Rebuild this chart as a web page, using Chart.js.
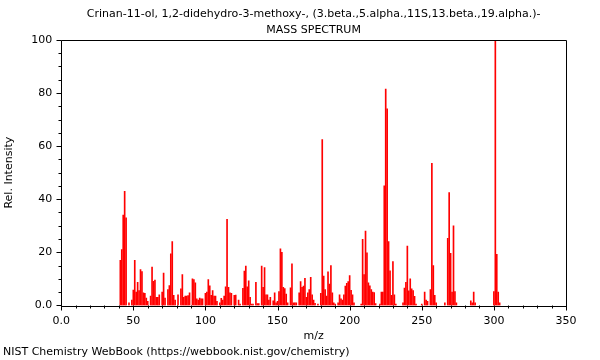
<!DOCTYPE html>
<html>
<head>
<meta charset="utf-8">
<script src="https://cdn.jsdelivr.net/npm/chart.js@4.4.0/dist/chart.umd.min.js"></script>
<style>
  html, body { margin: 0; padding: 0; background: #fff; }
  #wrap { width: 600px; height: 360px; }
</style>
</head>
<body>
<div id="wrap"><canvas id="myChart" width="600" height="360"></canvas></div>
<script>
const titleLines = ['Crinan-11-ol, 1,2-didehydro-3-methoxy-, (3.beta.,5.alpha.,11S,13.beta.,19.alpha.)-', 'MASS SPECTRUM'];
const footerText = 'NIST Chemistry WebBook (https://webbook.nist.gov/chemistry)';

// m/z values and relative intensities
const mzValues = [
  41, 42, 43, 44, 45, 47, 49, 50, 51, 52, 53, 54, 55, 56, 57, 58, 59, 60,
  62, 63, 64, 65, 66, 67, 68, 70, 71, 72, 74, 75, 76, 77, 78, 79,
  81, 83, 84, 85, 86, 87, 88, 89, 91, 92, 93, 94, 95, 96, 97, 98,
  100, 101, 102, 103, 104, 105, 106, 107, 108, 110, 111, 112, 113, 114, 115, 116, 117, 118,
  120, 121, 123, 124, 126, 127, 128, 129, 130, 131, 132, 133, 135, 136, 137, 139,
  140, 141, 142, 143, 144, 145, 147, 148, 149, 150, 151, 152, 153, 154, 155, 156, 157, 159,
  160, 161, 162, 163, 165, 166, 167, 168, 169, 170, 171, 172, 173, 174, 175, 176, 178,
  180, 181, 182, 183, 184, 185, 186, 187, 188, 189, 190, 192, 193, 194, 195, 196, 197, 198, 199,
  200, 201, 202, 203, 208, 209, 210, 211, 212, 213, 214, 215, 216, 217, 218,
  221, 222, 223, 224, 225, 226, 227, 228, 229, 230, 231, 232, 237, 238, 239,
  240, 241, 242, 243, 244, 245, 246, 250, 252, 253, 254, 256, 257, 258, 259,
  260, 266, 268, 269, 270, 271, 272, 273, 274, 284, 285, 286, 287,
  300, 301, 302, 303, 304
];
const intensities = [
  17, 21, 34, 43, 33, 1, 2, 5.8, 17, 5, 8.7, 5.6, 13.5, 12.7, 4.7, 4.5, 2.8, 1.5,
  3.5, 14.4, 9.1, 9.5, 3, 3, 4, 5, 12.2, 2.8, 6, 7.5, 19.4, 24, 3.8, 2,
  4, 6.2, 11.6, 3, 3.5, 3.5, 3.7, 4.7, 10, 9.7, 8.5, 2.5, 2, 2.8, 2.5, 2.5,
  4.5, 5, 9.7, 7.4, 3.8, 5.6, 3.5, 3.5, 1.5, 1, 2.7, 2, 3.5, 7, 32.4, 6.8, 4.7, 4.5,
  3.8, 3.9, 2, 0.5, 6.4, 12.9, 14.8, 7, 9.3, 3, 0.5, 0.5, 8.7, 0.7, 0.7, 14.8,
  6.8, 14.2, 4, 4, 2, 3, 1.7, 4.7, 1, 1.5, 5.2, 21.3, 20, 6.8, 6.3, 4.3, 1, 6.6,
  15.7, 1, 1, 1, 4.7, 9, 6.8, 7.3, 10.2, 3, 4.7, 6, 10.6, 4, 2, 0.8, 0.5,
  4.5, 62.5, 11, 6, 3.5, 12.6, 8, 15, 4.7, 1, 0.5, 1, 4, 2.5, 2, 4, 7.3, 8.3, 9,
  11.2, 5.7, 4, 1, 0.5, 24.9, 11.6, 28, 19.8, 8.5, 7.4, 6, 5, 4.8, 0.7,
  0.5, 5, 5, 45, 81.5, 74, 24, 13, 3.8, 16.5, 4, 0.5, 1, 6.5, 8.7,
  22.3, 5.5, 10, 6.2, 5.6, 3.4, 0.5, 0.5, 5, 2, 1.5, 6, 53.5, 15, 3.8,
  1, 1, 25.3, 42.5, 19.6, 5, 30, 5.2, 1, 1.7, 1, 5, 1,
  5.2, 100, 19.2, 5, 1
];

const xTicks = [0, 50, 100, 150, 200, 250, 300, 350];
const yTicks = [0, 20, 40, 60, 80, 100];

Chart.defaults.font.family = 'DejaVu Sans';
Chart.defaults.font.size = 11;
Chart.defaults.color = '#000';

// frame plus major / minor tick marks, drawn from the scales
const frameTicks = {
  id: 'frameTicks',
  afterDraw(chart) {
    const ctx = chart.ctx;
    const a = chart.chartArea;
    const xs = chart.scales.x, ys = chart.scales.y;
    ctx.save();
    ctx.strokeStyle = '#000';
    ctx.lineWidth = 1;
    ctx.beginPath();
    ctx.rect(Math.round(a.left) + 0.5, Math.round(a.top) + 0.5,
      Math.round(a.right - a.left), Math.round(a.bottom - a.top));
    for (let v = xs.min; v <= xs.max; v += 10) {
      const px = Math.round(xs.getPixelForValue(v)) + 0.5;
      const len = v % 50 === 0 ? 5 : 3;
      ctx.moveTo(px, Math.round(a.bottom) + 0.5);
      ctx.lineTo(px, Math.round(a.bottom) + 0.5 + len);
    }
    for (let v = ys.min; v <= ys.max; v += 5) {
      const py = Math.round(ys.getPixelForValue(v)) + 0.5;
      const len = v % 20 === 0 ? 5 : 3;
      ctx.moveTo(Math.round(a.left) + 0.5, py);
      ctx.lineTo(Math.round(a.left) + 0.5 - len, py);
    }
    ctx.stroke();
    ctx.restore();
  }
};

const myChart = new Chart(document.getElementById('myChart').getContext('2d'), {
  type: 'bar',
  data: {
    datasets: [{
      data: mzValues.map((m, i) => ({ x: m, y: intensities[i] })),
      backgroundColor: 'rgb(255, 0, 0)',
      barThickness: 1,
      borderWidth: 0
    }]
  },
  options: {
    responsive: false,
    animation: false,
    layout: { padding: { left: 3, right: 34, top: 0, bottom: 1 } },
    plugins: {
      legend: { display: false },
      tooltip: { enabled: false },
      title: {
        display: true,
        fullSize: false,
        text: titleLines,
        font: { size: 11, weight: 'normal', lineHeight: 1.45 },
        padding: { top: 6, bottom: 2 }
      },
      subtitle: {
        display: true,
        text: footerText,
        position: 'bottom',
        align: 'start',
        font: { size: 11, lineHeight: 1.2 },
        padding: { top: 2, bottom: 0 }
      }
    },
    scales: {
      x: {
        type: 'linear',
        min: 0,
        max: 350,
        offset: false,
        afterBuildTicks: s => { s.ticks = xTicks.map(v => ({ value: v })); },
        ticks: { padding: 1, maxRotation: 0, callback: v => v === 0 ? '0.0' : String(v) },
        grid: { display: false, tickLength: 8 },
        border: { display: false },
        title: { display: true, text: 'm/z', padding: { top: 1, bottom: 1 } }
      },
      y: {
        min: 0,
        max: 100,
        afterBuildTicks: s => { s.ticks = yTicks.map(v => ({ value: v })); },
        ticks: { padding: 2, callback: v => v === 0 ? '0.0' : String(v) },
        grid: { display: false, tickLength: 7 },
        border: { display: false },
        title: { display: true, text: 'Rel. Intensity', padding: { top: 0, bottom: 13 } }
      }
    }
  },
  plugins: [frameTicks]
});
</script>
</body>
</html>
